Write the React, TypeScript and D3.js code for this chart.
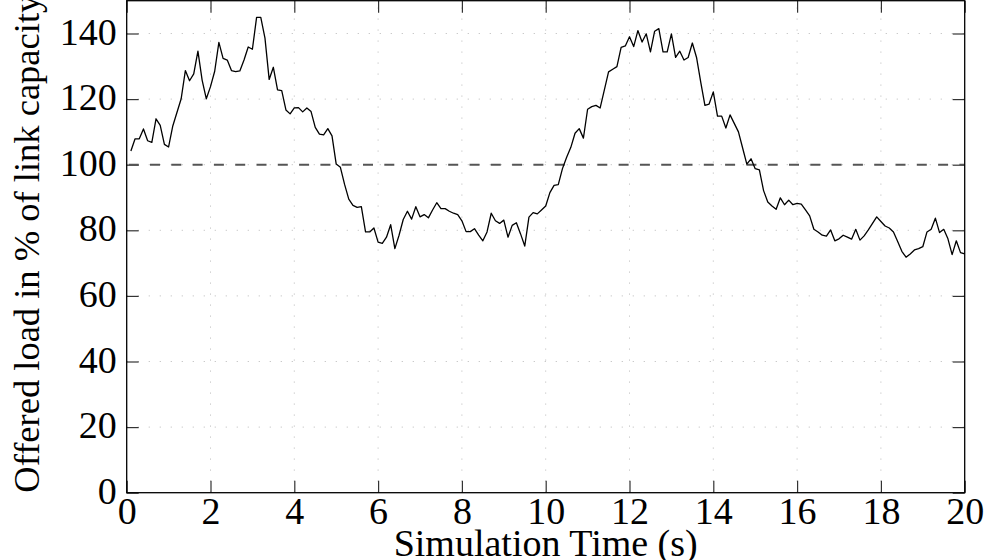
import React, { useEffect, useRef } from 'react';
import * as d3 from 'd3';

// Simulation time (s)
const times = [
  0.1, 0.2, 0.3, 0.4, 0.5, 0.6, 0.7, 0.8, 0.9, 1.0,
  1.1, 1.3, 1.4, 1.5, 1.6, 1.7, 1.8, 1.9, 2.0,
  2.1, 2.2, 2.3, 2.4, 2.5, 2.6, 2.7, 2.8, 2.9, 3.0,
  3.1, 3.2, 3.3, 3.4, 3.5, 3.6, 3.7, 3.8, 3.9, 4.0,
  4.1, 4.2, 4.3, 4.4, 4.5, 4.6, 4.7, 4.8, 4.9, 5.0,
  5.1, 5.2, 5.3, 5.4, 5.5, 5.6, 5.7, 5.8, 5.9, 6.0,
  6.1, 6.2, 6.3, 6.4, 6.5, 6.6, 6.7, 6.8, 6.9, 7.0,
  7.1, 7.2, 7.3, 7.4, 7.5, 7.6, 7.7, 7.8, 7.9, 8.0,
  8.1, 8.2, 8.3, 8.4, 8.5, 8.6, 8.7, 8.8, 8.9, 9.0,
  9.1, 9.2, 9.3, 9.4, 9.5, 9.6, 9.7, 9.8, 9.9, 10.0,
  10.1, 10.2, 10.3, 10.4, 10.5, 10.6, 10.7, 10.8, 10.9, 11.0,
  11.1, 11.2, 11.3, 11.4, 11.5, 11.6, 11.7, 11.8, 11.9, 12.0,
  12.1, 12.2, 12.3, 12.4, 12.5, 12.6, 12.7, 12.8, 12.9, 13.0,
  13.1, 13.2, 13.3, 13.4, 13.5, 13.6, 13.7, 13.8, 13.9, 14.0,
  14.1, 14.2, 14.3, 14.4, 14.5, 14.6, 14.7, 14.8, 14.9, 15.0,
  15.1, 15.2, 15.3, 15.4, 15.5, 15.6, 15.7, 15.8, 15.9, 16.0,
  16.1, 16.2, 16.3, 16.4, 16.5, 16.6, 16.7, 16.8, 16.9, 17.0,
  17.1, 17.2, 17.3, 17.4, 17.5, 17.6, 17.7, 17.8, 17.9, 18.0,
  18.1, 18.2, 18.3, 18.4, 18.5, 18.6, 18.7, 18.8, 18.9, 19.0,
  19.1, 19.2, 19.3, 19.4, 19.5, 19.6, 19.7, 19.8, 19.9, 20.0,
];

// Offered load in % of link capacity
const load = [
  104.2, 107.9, 107.9, 110.9, 107.3, 106.8, 114.0, 112.0, 106.2, 105.4,
  111.8, 120.1, 128.7, 125.6, 127.7, 134.6, 125.8, 120.1, 123.8,
  128.5, 137.3, 132.4, 131.9, 128.7, 128.4, 128.6, 131.9, 135.9, 135.2,
  144.9, 144.9, 138.6, 126.0, 129.7, 122.8, 122.6, 116.7, 115.5, 117.3,
  117.4, 116.1, 117.3, 116.2, 111.4, 109.3, 109.1, 111.0, 108.8, 100.2,
  99.2, 94.0, 89.5, 87.6, 87.0, 87.2, 79.5, 79.5, 80.7, 76.4,
  76.0, 77.9, 81.7, 74.4, 78.5, 83.3, 85.8, 83.4, 87.2, 84.1,
  84.8, 83.8, 86.2, 88.4, 86.6, 86.6, 85.8, 85.2, 84.8, 82.9,
  79.6, 79.6, 80.5, 78.5, 76.8, 79.5, 85.2, 82.9, 82.1, 83.1,
  77.9, 81.5, 82.3, 78.9, 75.2, 84.0, 85.4, 85.0, 86.2, 87.4,
  91.5, 93.7, 93.9, 98.8, 102.3, 105.3, 109.6, 111.0, 108.1, 116.9,
  117.7, 118.1, 117.3, 122.8, 128.3, 129.1, 129.9, 135.8, 136.2, 139.0,
  136.0, 140.9, 137.4, 139.9, 134.4, 140.7, 141.5, 134.4, 134.4, 139.9,
  132.7, 134.6, 131.9, 132.7, 137.1, 132.7, 125.2, 118.1, 118.5, 122.2,
  114.8, 114.8, 111.2, 115.2, 112.6, 110.0, 105.1, 100.2, 101.8, 98.8,
  98.4, 92.1, 88.6, 87.4, 86.4, 89.9, 87.8, 89.2, 87.8, 88.2,
  88.0, 86.2, 84.4, 80.3, 79.5, 78.5, 78.2, 80.1, 76.8, 77.4,
  78.5, 77.9, 77.3, 80.3, 77.0, 78.3, 80.1, 82.1, 84.1, 82.7,
  81.3, 80.7, 79.5, 76.6, 73.6, 71.8, 72.8, 74.0, 74.4, 75.0,
  79.5, 80.3, 83.7, 79.3, 80.3, 77.4, 72.6, 76.8, 73.2, 72.8,
];

const xTicks = [0, 2, 4, 6, 8, 10, 12, 14, 16, 18, 20];
const yTicks = [0, 20, 40, 60, 80, 100, 120, 140];
const capacityLine = 100;
const xLabel = 'Simulation Time (s)';
const yLabel = 'Offered load in % of link capacity';

export default function App() {
  const ref = useRef<SVGSVGElement>(null);

  useEffect(() => {
    const W = 987, H = 560;
    const m = { left: 126.7, right: 22.3, top: 0.7, bottom: 67.3 };
    const font = '"Liberation Serif", "Times New Roman", serif';
    const fs = 38;
    const svg = d3.select(ref.current);
    svg.selectAll('*').remove();

    const x = d3.scaleLinear().domain([0, 20]).range([m.left, W - m.right]);
    const y = d3.scaleLinear().domain([0, 150]).range([H - m.bottom, m.top]);

    svg.append('rect').attr('width', W).attr('height', H).attr('fill', '#fff');

    // grid
    const grid = svg.append('g').attr('stroke', '#c4c4c4').attr('stroke-width', 1)
      .attr('stroke-dasharray', '1.2 9.8');
    grid.selectAll('line.gx').data(xTicks.slice(1, -1)).join('line')
      .attr('x1', d => x(d)).attr('x2', d => x(d))
      .attr('y1', y(0)).attr('y2', y(150));
    grid.selectAll('line.gy').data(yTicks.slice(1)).join('line')
      .attr('x1', x(0)).attr('x2', x(20))
      .attr('y1', d => y(d)).attr('y2', d => y(d));

    // axes (inward ticks)
    const styleAxis = (g: any) => {
      g.select('.domain').remove();
      g.selectAll('.tick line').attr('stroke', '#333').attr('stroke-width', 1.2);
      g.selectAll('.tick text').attr('font-family', font).attr('font-size', fs).attr('fill', '#000');
    };
    svg.append('g').attr('transform', `translate(0,${y(0)})`)
      .call(d3.axisBottom(x).tickValues(xTicks).tickFormat(d3.format('d')).tickSize(-12).tickPadding(4))
      .call(styleAxis);
    svg.append('g').attr('transform', `translate(0,${y(150)})`)
      .call(d3.axisTop(x).tickValues(xTicks).tickFormat(() => '').tickSize(-12))
      .call(styleAxis);
    const gl = svg.append('g').attr('transform', `translate(${x(0)},0)`)
      .call(d3.axisLeft(y).tickValues(yTicks).tickFormat(d3.format('d')).tickSize(-12).tickPadding(10))
      .call(styleAxis);
    gl.selectAll('.tick text').attr('dy', '0.28em');
    svg.append('g').attr('transform', `translate(${x(20)},0)`)
      .call(d3.axisRight(y).tickValues(yTicks).tickFormat(() => '').tickSize(-12))
      .call(styleAxis);

    // dashed capacity line
    svg.append('line')
      .attr('x1', x(0)).attr('x2', x(20))
      .attr('y1', y(capacityLine)).attr('y2', y(capacityLine))
      .attr('stroke', '#555').attr('stroke-width', 2)
      .attr('stroke-dasharray', '10 11.3').attr('stroke-dashoffset', -2);

    // load line
    const pts = times.map((t, i) => [t, load[i]] as [number, number]);
    svg.append('path').datum(pts)
      .attr('fill', 'none').attr('stroke', '#000').attr('stroke-width', 1.3)
      .attr('stroke-linejoin', 'round')
      .attr('d', d3.line<[number, number]>().x(d => x(d[0])).y(d => y(d[1])));

    // frame
    svg.append('rect')
      .attr('x', x(0)).attr('y', y(150))
      .attr('width', x(20) - x(0)).attr('height', y(0) - y(150))
      .attr('fill', 'none').attr('stroke', '#000').attr('stroke-width', 1.3);

    // axis labels
    svg.append('text').text(xLabel)
      .attr('x', (x(0) + x(20)) / 2).attr('y', 556)
      .attr('text-anchor', 'middle').attr('font-family', font).attr('font-size', fs);
    svg.append('text').text(yLabel)
      .attr('transform', `translate(39,${(y(0) + y(150)) / 2 - 3}) rotate(-90)`)
      .attr('text-anchor', 'middle').attr('font-family', font).attr('font-size', 36.5);
  }, []);

  return (
    <svg ref={ref} width={987} height={560}
      style={{ position: 'absolute', left: 0, top: 0, display: 'block' }} />
  );
}
